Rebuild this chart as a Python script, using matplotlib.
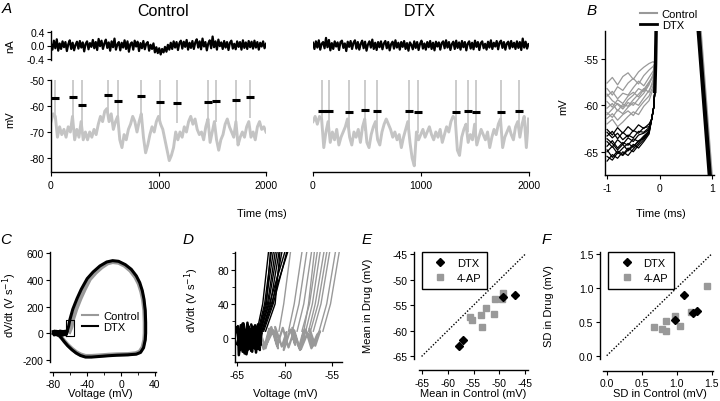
import numpy as np
import matplotlib.pyplot as plt
from matplotlib.lines import Line2D

plt.rcParams['font.family'] = ['Liberation Sans', 'DejaVu Sans']
plt.rcParams['axes.unicode_minus'] = False
plt.rcParams['axes.linewidth'] = 1.0
plt.rcParams['xtick.labelsize'] = 7.5
plt.rcParams['ytick.labelsize'] = 7.5
plt.rcParams['xtick.major.size'] = 3
plt.rcParams['ytick.major.size'] = 3
plt.rcParams['xtick.minor.size'] = 2
plt.rcParams['ytick.minor.size'] = 2
plt.rcParams['xtick.major.pad'] = 2.5
plt.rcParams['ytick.major.pad'] = 1.5

# ---------------- data: panel A ----------------
ctrl_current = [
    0.05, -0.12, 0.14, -0.08, 0.18, -0.15, 0.06, -0.1, 0.12, -0.05,
    0.1, -0.16, 0.04, 0.15, -0.1, 0.08, -0.14, 0.02, 0.11, -0.09,
    0.13, -0.06, 0.09, -0.17, 0.05, 0.12, -0.11, 0.07, -0.04, 0.16,
    -0.08, 0.1, -0.13, 0.19, -0.02, 0.14, -0.1, 0.06, 0.17, -0.07,
    0.09, -0.15, 0.12, -0.05, 0.2, -0.12, 0.03, 0.1, -0.14, 0.08,
    -0.06, 0.15, -0.1, 0.12, -0.18, 0.04, 0.09, -0.12, 0.14, -0.03,
    0.11, -0.16, 0.07, -0.08, 0.13, -0.11, 0.05, 0.1, -0.15, 0.02,
    -0.1, 0.06, -0.2, -0.05, -0.22, -0.08, -0.26, -0.1, -0.2, -0.04,
    -0.18, 0.02, -0.12, 0.08, -0.1, 0.12, -0.06, 0.1, -0.13, 0.07,
    0.14, -0.09, 0.11, -0.04, 0.16, -0.12, 0.08, -0.07, 0.13, -0.1,
    0.09, 0.18, -0.06, 0.12, -0.11, 0.2, -0.03, 0.1, -0.14, 0.06,
    0.15, -0.08, 0.26, -0.05, 0.12, -0.12, 0.17, -0.02, 0.09, -0.1,
    0.13, -0.06, 0.1, -0.13, 0.08, 0.14, -0.09, 0.05, -0.11, 0.12,
    -0.04, 0.1, -0.12, 0.15, -0.07, 0.09, -0.1, 0.13, -0.05, 0.11,
    -0.09, 0.14, -0.06, 0.1, -0.12, 0.08, -0.03, 0.12, -0.08, 0.05]
dtx_current = [
    0.08, -0.1, 0.12, -0.06, 0.15, -0.12, 0.05, 0.1, -0.08, 0.22,
    -0.05, 0.16, -0.14, 0.07, -0.1, 0.12, -0.03, 0.09, -0.13, 0.1,
    0.14, -0.07, 0.06, -0.16, 0.11, -0.04, 0.13, -0.1, 0.08, 0.15,
    -0.09, 0.1, -0.12, 0.05, 0.14, -0.08, 0.11, -0.15, 0.03, 0.12,
    -0.06, 0.17, -0.1, 0.08, -0.13, 0.1, -0.05, 0.12, -0.11, 0.06,
    0.13, -0.08, 0.1, -0.14, 0.04, 0.11, -0.09, 0.15, -0.06, 0.08,
    -0.12, 0.1, -0.04, 0.13, -0.1, 0.07, -0.15, 0.09, 0.02, -0.11,
    0.12, -0.07, 0.1, -0.13, 0.05, 0.14, -0.09, 0.06, -0.12, 0.1,
    -0.05, 0.13, -0.1, 0.08, -0.14, 0.11, -0.03, 0.09, -0.12, 0.07,
    0.12, -0.08, 0.15, -0.06, 0.1, -0.13, 0.04, 0.11, -0.1, 0.14,
    -0.07, 0.09, -0.12, 0.13, -0.05, 0.1, -0.14, 0.06, 0.12, -0.09,
    0.08, -0.11, 0.14, -0.04, 0.1, -0.13, 0.07, 0.12, -0.08, 0.05,
    -0.12, 0.11, -0.06, 0.15, -0.1, 0.08, -0.03, 0.13, -0.11, 0.09,
    0.14, -0.07, 0.1, -0.12, 0.06, 0.11, -0.09, 0.13, -0.05, 0.08,
    -0.1, 0.12, -0.07, 0.1, -0.13, 0.2, -0.06, 0.11, -0.09, 0.04]

ctrl_vm = [
    -66, -63, -64, -72, -68, -71, -69, -72, -68, -70,
    -64, -73, -69, -72, -66, -73, -70, -73, -70, -72,
    -69, -71, -67, -64, -66, -62, -61, -66, -63, -69,
    -66, -64, -73, -76, -71, -73, -69, -67, -64, -66,
    -70, -66, -63, -72, -78, -75, -71, -68, -70, -66,
    -64, -67, -69, -73, -77, -81, -79, -76, -70, -73,
    -70, -72, -68, -70, -66, -64, -67, -65, -69, -71,
    -70, -73, -68, -65, -74, -70, -66, -73, -77, -73,
    -71, -67, -65, -68, -70, -72, -66, -75, -72, -70,
    -72, -68, -66, -72, -70, -73, -68, -66, -69, -68,
    -70]
dtx_vm = [
    -66, -64, -67, -64, -65, -76, -70, -66, -74, -70,
    -73, -69, -75, -72, -70, -68, -65, -72, -75, -70,
    -72, -69, -74, -68, -65, -74, -76, -71, -68, -66,
    -73, -75, -70, -67, -65, -67, -69, -72, -70, -73,
    -71, -76, -72, -69, -66, -74, -80, -83, -70, -73,
    -71, -69, -72, -70, -68, -71, -73, -70, -72, -69,
    -74, -71, -68, -70, -66, -64, -65, -77, -79, -72,
    -69, -67, -74, -71, -73, -67, -75, -72, -69, -71,
    -73, -70, -76, -72, -69, -71, -67, -65, -76, -72,
    -70, -68, -71, -73, -68, -66, -72, -67, -64, -76,
    -65]

ctrl_spike_t = [37, 208, 291, 527, 623, 837, 1014, 1169, 1463, 1532, 1724, 1851]
ctrl_spike_thr = [-56.9, -56.7, -59.6, -55.6, -58.2, -56.0, -58.3, -58.7, -58.5, -58.0, -57.7, -56.7]
dtx_spike_t = [80, 148, 334, 486, 591, 894, 972, 1324, 1438, 1513, 1742, 1909]
dtx_spike_thr = [-61.8, -62.1, -62.4, -61.7, -61.9, -61.9, -62.3, -62.4, -62.1, -62.3, -62.4, -62.1]

# ---------------- data: panel B ----------------
b_time = [-1.0, -0.9, -0.8, -0.7, -0.6, -0.5, -0.4, -0.3, -0.2, -0.12]
b_ctrl = [
    [-57.6, -57.0, -57.8, -56.9, -56.5, -57.2, -56.4, -55.9, -55.5, -55.3],
    [-58.2, -58.9, -58.0, -58.4, -57.6, -57.1, -57.7, -56.8, -56.2, -55.8],
    [-59.0, -58.5, -59.3, -58.7, -58.9, -58.1, -57.4, -57.9, -57.0, -56.3],
    [-59.6, -60.2, -59.4, -59.8, -59.0, -58.6, -59.1, -58.3, -57.5, -56.8],
    [-60.3, -59.8, -60.6, -59.9, -60.1, -59.4, -58.8, -58.2, -58.6, -57.2],
    [-60.8, -61.3, -60.5, -60.9, -60.2, -59.7, -60.0, -59.2, -58.4, -57.6],
    [-61.4, -60.9, -61.6, -61.0, -60.6, -61.1, -60.3, -59.6, -59.0, -57.9],
    [-62.0, -61.5, -62.3, -61.8, -61.2, -60.7, -61.0, -60.1, -59.5, -58.2],
    [-58.8, -59.5, -59.9, -60.4, -59.7, -60.0, -59.3, -58.7, -57.8, -56.6],
    [-61.0, -60.4, -59.8, -60.2, -59.4, -58.9, -58.2, -58.5, -57.6, -56.9]]
b_ctrl_up_t = [-0.09, -0.07, -0.055]
b_ctrl_up_v = [-55.5, -53.0, -48.0]
b_time_dtx = [-1.0, -0.9, -0.8, -0.7, -0.6, -0.5, -0.4, -0.3, -0.2]
b_dtx = [
    [-62.6, -63.2, -62.4, -63.0, -62.3, -62.8, -62.1, -62.5, -62.0],
    [-63.3, -62.8, -63.6, -62.9, -63.4, -62.7, -63.0, -62.4, -62.3],
    [-63.9, -64.5, -63.7, -64.2, -63.5, -63.9, -63.2, -63.0, -62.6],
    [-64.4, -63.8, -64.6, -64.0, -64.3, -63.6, -63.9, -63.3, -62.8],
    [-65.0, -64.4, -65.2, -64.6, -64.1, -64.5, -63.8, -63.6, -63.0],
    [-65.5, -65.9, -65.1, -65.4, -64.8, -64.2, -64.6, -63.9, -63.1],
    [-64.8, -65.6, -64.9, -65.3, -64.6, -65.0, -64.3, -63.7, -62.9],
    [-63.6, -64.1, -64.8, -64.2, -64.9, -64.4, -63.9, -63.5, -62.7],
    [-66.0, -65.3, -65.7, -65.0, -65.4, -64.7, -64.1, -63.4, -62.8],
    [-62.9, -63.5, -63.0, -63.7, -63.2, -63.5, -62.8, -62.9, -62.4]]
b_dtx_up_t = [-0.15, -0.11, -0.09, -0.075, -0.062, -0.05]
b_dtx_up_v = [-61.5, -60.2, -58.5, -55.5, -51.0, -45.0]
b_down_t = [0.74, 0.965]
b_down_ctrl = [-51.5, -68.0]
b_down_dtx = [-51.5, -68.0]

# ---------------- data: panel C (phase plots) ----------------
c_ctrl_v = [-61, -58.5, -57, -53, -48, -43, -37, -30, -23, -16, -10, -3, 4, 11, 17, 21,
            24, 26, 27.5, 28, 28, 27.5, 25.5, 22, 17, 8, -5, -15, -25, -35, -42, -48,
            -53, -58, -63, -67, -70, -73, -76, -80]
c_ctrl_dv = [10, 50, 100, 180, 260, 330, 405, 455, 495, 525, 535, 530, 508, 470, 420, 370,
             310, 250, 170, 80, 0, -50, -105, -140, -152, -158, -160, -163, -168, -172, -172, -160,
             -143, -118, -88, -60, -36, -16, -5, 0]
c_dtx_v = [-64, -62, -60.5, -57, -52, -47, -40, -33, -25, -17, -10, -3, 5, 12, 18, 22,
           25, 27, 28.5, 29, 29, 28.5, 26.5, 23, 18, 8, -5, -15, -25, -35, -42, -48,
           -53, -58, -63, -67, -70, -73, -76, -80]
c_dtx_dv = [10, 50, 100, 180, 260, 330, 410, 460, 505, 535, 545, 540, 515, 480, 430, 380,
            320, 255, 170, 80, 0, -50, -110, -145, -158, -163, -166, -170, -175, -180, -180, -168,
            -150, -125, -95, -65, -40, -18, -6, 0]
c_base_v = [-80, -79, -78, -77, -76, -75, -74, -73, -72, -71, -70, -69, -68, -67, -66, -65, -64]
c_base_dv = [12, -14, 15, -12, 14, -15, 12, -14, 16, -12, 14, -16, 13, -12, 15, -13, 8]
c_box_v = [-65, -55]
c_box_dv = [-25, 100]

# ---------------- data: panel D (expanded phase plot) ----------------
d_ctrl_noise_v = [-64.8, -64.2, -63.7, -63.9, -63.1, -62.6, -62.9, -62.2, -61.6, -61.9,
                  -61.2, -60.7, -61.0, -60.3, -59.8, -60.1, -59.4, -58.9, -59.2, -58.5,
                  -58.0, -58.3, -57.6, -57.1, -57.4, -56.8, -56.3, -56.6, -57.2, -57.8,
                  -58.4, -59.0, -59.6, -60.2, -60.8, -61.4, -62.0, -62.6, -63.2, -63.8, -64.4]
d_ctrl_noise_dv = [10, -12, 8, -14, 12, -9, 6, -13, 11, -7,
                   9, -12, 13, -10, 7, -14, 10, -8, 12, -11,
                   9, -13, 6, -10, 11, -9, 8, 4, -12, 10,
                   -14, 9, -11, 12, -9, 13, -12, 8, -10, 11, -13]
d_dtx_noise_v = [-65.0, -64.7, -64.9, -64.4, -64.6, -64.1, -64.4, -63.8, -64.1, -63.5,
                 -63.8, -63.2, -63.5, -62.9, -63.2, -62.6, -62.9, -62.4, -62.8, -63.1,
                 -63.4, -63.7, -64.0, -64.3, -64.6, -64.9, -64.8, -64.5, -64.2, -63.9,
                 -63.6, -63.3, -63.0, -62.7, -62.5, -62.8, -63.1, -63.6, -64.0, -64.5, -65.0]
d_dtx_noise_dv = [12, -14, 9, -16, 15, -10, 17, -13, 8, -15,
                  14, -11, 16, -9, 12, -14, 10, 6, -12, 15,
                  -16, 11, -13, 17, -10, 14, -20, 5, -18, 18,
                  -6, 13, -17, 9, -8, 16, -12, 4, -19, 11, -7]
d_up_dv = [8, 40, 100]
d_ctrl_up = [(-60.6, -60.1, -59.4), (-59.6, -59.0, -58.2), (-59.2, -58.5, -57.7),
             (-58.7, -58.0, -57.2), (-58.2, -57.4, -56.6), (-57.8, -57.1, -56.3),
             (-57.3, -56.5, -55.6), (-57.0, -56.2, -55.3), (-56.4, -55.6, -54.7),
             (-56.0, -55.2, -54.3), (-58.0, -57.5, -56.9), (-57.5, -56.8, -55.9)]
d_dtx_up = [(-62.9, -62.3, -61.7), (-62.8, -62.1, -61.4), (-62.7, -62.0, -61.2),
            (-62.6, -61.8, -61.0), (-62.5, -61.7, -60.8), (-62.4, -61.5, -60.6),
            (-62.3, -61.3, -60.3), (-62.6, -61.6, -60.0), (-62.2, -61.2, -59.8),
            (-62.0, -61.0, -60.5), (-62.7, -61.9, -61.5), (-62.4, -61.4, -59.7)]

# ---------------- data: panels E, F ----------------
e_dtx_ctrl = [-57.8, -57.0, -49.3, -47.0]
e_dtx_drug = [-63.0, -61.8, -53.4, -53.0]
e_ap_ctrl = [-55.6, -55.3, -53.5, -52.6, -53.3, -51.0, -50.9, -49.6, -49.4]
e_ap_drug = [-57.2, -57.9, -57.0, -55.6, -59.2, -56.7, -53.7, -53.7, -52.6]
f_dtx_ctrl = [1.10, 0.97, 1.24, 1.29]
f_dtx_drug = [0.90, 0.53, 0.63, 0.66]
f_ap_ctrl = [0.68, 0.79, 0.85, 0.85, 0.97, 1.05, 1.21, 1.44]
f_ap_drug = [0.42, 0.39, 0.51, 0.37, 0.58, 0.44, 0.65, 1.03]

GRAY = '#999999'
LIGHT = '#c4c4c4'
W, H = 720, 402
fig = plt.figure(figsize=(7.2, 4.02), dpi=100)


def add_ax(x0, y0, x1, y1):
    return fig.add_axes([x0 / W, 1 - y1 / H, (x1 - x0) / W, (y1 - y0) / H])


def ftext(x, y, s, **kw):
    fig.text(x / W, 1 - y / H, s, ha='center', va='center', **kw)


def clean(ax):
    ax.spines['top'].set_visible(False)
    ax.spines['right'].set_visible(False)
    ax.patch.set_alpha(0)


def box_legend(ax, handles, x_anchor):
    leg = ax.legend(handles, ['DTX', '4-AP'], loc='upper left', bbox_to_anchor=(x_anchor, 1.0),
                    fancybox=False, edgecolor='k', framealpha=1, fontsize=8,
                    handlelength=2.2, handletextpad=0.4, borderpad=0.55, borderaxespad=0,
                    labelspacing=0.4)
    leg.get_frame().set_linewidth(1)


# ---- A ----
t_cur = np.linspace(0, 2000, len(ctrl_current))
t_vm = np.linspace(0, 2000, len(ctrl_vm))

ax = add_ax(51, 32, 266, 61)
clean(ax)
ax.plot(t_cur, ctrl_current, color='k', lw=1.6)
ax.set_xlim(0, 2000)
ax.set_ylim(-0.42, 0.42)
ax.spines['bottom'].set_visible(False)
ax.set_xticks([])
ax.set_yticks([-0.4, 0, 0.4])
ax.set_yticklabels(['-0.4', '0.0', '0.4'])

ax = add_ax(51, 81, 266, 172)
clean(ax)
ax.vlines(ctrl_spike_t, np.array(ctrl_spike_thr) - 8, -40, color=LIGHT, lw=1.2)
ax.plot(t_vm, ctrl_vm, color=LIGHT, lw=2.1)
ax.plot(ctrl_spike_t, ctrl_spike_thr, ls='none', marker='_', ms=6, mew=2.2, color='k')
ax.set_xlim(0, 2000)
ax.set_ylim(-85, -50)
ax.set_xticks([0, 1000, 2000])
ax.set_yticks([-80, -70, -60, -50])
ax.spines['bottom'].set_position(('outward', 1))

ax = add_ax(313, 32, 528.5, 61)
ax.plot(t_cur, dtx_current, color='k', lw=1.6)
ax.set_xlim(0, 2000)
ax.set_ylim(-0.42, 0.42)
ax.axis('off')

ax = add_ax(313, 81, 528.5, 172)
clean(ax)
ax.spines['left'].set_visible(False)
ax.vlines(dtx_spike_t, np.array(dtx_spike_thr) - 8, -40, color=LIGHT, lw=1.2)
ax.plot(t_vm, dtx_vm, color=LIGHT, lw=2.1)
ax.plot(dtx_spike_t, dtx_spike_thr, ls='none', marker='_', ms=6, mew=2.2, color='k')
ax.set_xlim(0, 2000)
ax.set_ylim(-85, -50)
ax.set_xticks([0, 1000, 2000])
ax.set_yticks([])
ax.spines['bottom'].set_position(('outward', 1))

ftext(10, 46, 'nA', rotation=90, fontsize=8)
ftext(10, 120, 'mV', rotation=90, fontsize=8)
ftext(262, 214, 'Time (ms)', fontsize=8)
ftext(163, 12, 'Control', fontsize=11.5)
ftext(420, 12, 'DTX', fontsize=11.5)

# ---- B ----
ax = add_ax(605, 32, 714, 176)
clean(ax)
for tr in b_ctrl:
    ax.plot(b_time + b_ctrl_up_t, tr + b_ctrl_up_v, color=GRAY, lw=0.9)
for tr in b_dtx:
    ax.plot(b_time_dtx + b_dtx_up_t, tr + b_dtx_up_v, color='k', lw=0.9)
ax.plot(b_dtx_up_t[2:], b_dtx_up_v[2:], color='k', lw=2.5)
ax.plot([t + 0.02 for t in b_down_t], b_down_ctrl, color=GRAY, lw=3)
ax.plot(b_down_t, b_down_dtx, color='k', lw=3)
ax.set_xlim(-1.04, 1.04)
ax.set_ylim(-67.5, -52)
ax.set_xticks([-1, 0, 1])
ax.set_yticks([-65, -60, -55])
ftext(563, 107, 'mV', rotation=90, fontsize=8)
ftext(661, 214, 'Time (ms)', fontsize=8)
handles = [Line2D([], [], color=GRAY, lw=1.5), Line2D([], [], color='k', lw=2)]
fig.legend(handles, ['Control', 'DTX'], loc='upper left',
           bbox_to_anchor=(634 / W, 1 - 4 / H), frameon=False, fontsize=8,
           handlelength=1.6, handletextpad=0.4, labelspacing=0.1, borderpad=0)

# ---- C ----
ax = add_ax(50, 253, 156, 363)
clean(ax)
ax.plot(c_ctrl_v, c_ctrl_dv, color=GRAY, lw=3)
ax.plot(c_dtx_v, c_dtx_dv, color='k', lw=2.2)
ax.plot(c_base_v, c_base_dv, color='k', lw=2.2)
ax.plot([c_box_v[0], c_box_v[1], c_box_v[1], c_box_v[0], c_box_v[0]],
        [c_box_dv[0], c_box_dv[0], c_box_dv[1], c_box_dv[1], c_box_dv[0]], color='k', lw=0.8)
ax.set_xlim(-83.9, 41.2)
ax.set_ylim(-217, 610)
ax.set_xticks([-80, -40, 0, 40])
ax.set_xticks([-60, -20, 20], minor=True)
ax.set_yticks([-200, 0, 200, 400, 600])
ax.spines['bottom'].set_position(('outward', 7))
ax.legend([Line2D([], [], color=GRAY, lw=1.5), Line2D([], [], color='k', lw=1.5)],
          ['Control', 'DTX'], loc='center left', bbox_to_anchor=(0.3, 0.37),
          frameon=False, fontsize=8, handlelength=1.5, handletextpad=0.4,
          labelspacing=0.1, borderpad=0, borderaxespad=0)
ftext(10, 305, 'dV/dt (V s$^{-1}$)', rotation=90, fontsize=8)
ftext(100, 394, 'Voltage (mV)', fontsize=8)

# ---- D ----
ax = add_ax(235, 253, 342, 363)
clean(ax)
ax.plot(d_ctrl_noise_v, d_ctrl_noise_dv, color=GRAY, lw=1.6)
for v in d_ctrl_up:
    ax.plot(v, d_up_dv, color=GRAY, lw=1)
ax.plot(d_dtx_noise_v, d_dtx_noise_dv, color='k', lw=1.8)
for v in d_dtx_up:
    ax.plot(v, d_up_dv, color='k', lw=1)
ax.set_xlim(-65.2, -54.0)
ax.set_ylim(-28, 100.7)
ax.set_xticks([-65, -60, -55])
ax.set_yticks([0, 40, 80])
ax.set_yticks([-20, 20, 60, 100], minor=True)
ftext(192, 300, 'dV/dt (V s$^{-1}$)', rotation=90, fontsize=8)
ftext(285, 394, 'Voltage (mV)', fontsize=8)

# ---- E ----
ax = add_ax(419, 253, 528, 360)
clean(ax)
ax.plot([-65, -45], [-65, -45], color='k', lw=1, ls=(0, (1, 1.3)))
sq = ax.plot(e_ap_ctrl, e_ap_drug, ls='none', marker='s', ms=4.5, color=GRAY)[0]
di = ax.plot(e_dtx_ctrl, e_dtx_drug, ls='none', marker='D', ms=4.5, color='k')[0]
ax.set_xlim(-65.5, -44.5)
ax.set_ylim(-65.5, -44.6)
ax.set_xticks([-65, -60, -55, -50, -45])
ax.set_yticks([-65, -60, -55, -50, -45])
ax.spines['left'].set_position(('outward', 3.5))
ax.spines['bottom'].set_position(('outward', 8))
box_legend(ax, [di, sq], 0.025)
ftext(368, 306, 'Mean in Drug (mV)', rotation=90, fontsize=8)
ftext(473, 394, 'Mean in Control (mV)', fontsize=8)

# ---- F ----
ax = add_ax(603, 253, 713, 360)
clean(ax)
ax.plot([0, 1.5], [0, 1.5], color='k', lw=1, ls=(0, (1, 1.3)))
sq = ax.plot(f_ap_ctrl, f_ap_drug, ls='none', marker='s', ms=4.5, color=GRAY)[0]
di = ax.plot(f_dtx_ctrl, f_dtx_drug, ls='none', marker='D', ms=4.5, color='k')[0]
ax.set_xlim(-0.053, 1.52)
ax.set_ylim(-0.049, 1.53)
ax.set_xticks([0, 0.5, 1.0, 1.5])
ax.set_yticks([0, 0.5, 1.0, 1.5])
ax.set_xticklabels(['0.0', '0.5', '1.0', '1.5'])
ax.set_yticklabels(['0.0', '0.5', '1.0', '1.5'])
ax.spines['left'].set_position(('outward', 2.5))
ax.spines['bottom'].set_position(('outward', 8.5))
box_legend(ax, [di, sq], 0.048)
ftext(549, 306, 'SD in Drug (mV)', rotation=90, fontsize=8)
ftext(660, 394, 'SD in Control (mV)', fontsize=8)

# panel letters
for x, y, s in [(7, 9, 'A'), (592, 11, 'B'), (6, 240, 'C'), (188, 240, 'D'),
                (367, 240, 'E'), (546, 240, 'F')]:
    ftext(x, y, s, fontsize=11, style='italic')

fig.savefig('out.png', dpi=100)
